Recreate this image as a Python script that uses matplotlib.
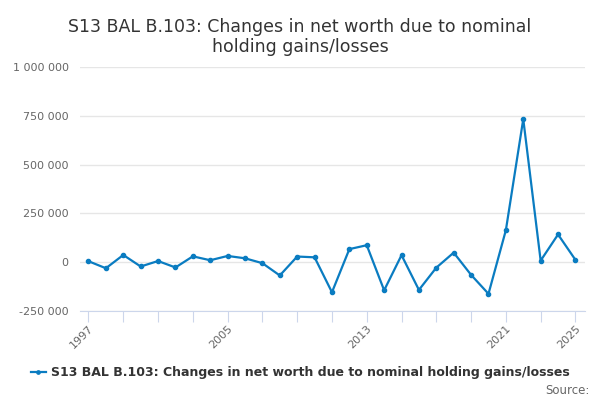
import matplotlib.pyplot as plt
from matplotlib.ticker import FuncFormatter

# data
years = list(range(1997, 2026))
values = [5000, -31000, 37000, -22000, 6000, -27000, 30000, 10000, 32000, 20000,
          -5000, -68000, 29000, 25000, -154000, 67000, 87000, -144000, 36000, -142000,
          -28000, 49000, -65000, -162000, 164000, 733000, 8000, 142000, 12000]
labelled_years = [1997, 2005, 2013, 2021, 2025]
series_name = "S13 BAL B.103: Changes in net worth due to nominal holding gains/losses"
title = "S13 BAL B.103: Changes in net worth due to nominal\nholding gains/losses"

line_col = "#0a7cc1"

fig = plt.figure(figsize=(6, 4), dpi=100)
ax = fig.add_axes([0.133, 0.2225, 0.842, 0.61])

ax.plot(years, values, color=line_col, lw=1.6, marker="o", markersize=3, label=series_name)

ax.set_xlim(1996.5, 2025.55)
ax.set_ylim(-250000, 1000000)
ax.set_yticks([-250000, 0, 250000, 500000, 750000, 1000000])
ax.yaxis.set_major_formatter(FuncFormatter(lambda v, p: f"{int(v):,}".replace(",", " ")))
ax.grid(axis="y", color="#e6e6e6", lw=1)
ax.set_axisbelow(True)

tick_years = list(range(1997, 2026, 2))
ax.set_xticks(tick_years)
ax.set_xticklabels([str(y) if y in labelled_years else "" for y in tick_years],
                   rotation=45, ha="right", rotation_mode="anchor")

for s in ["top", "right", "left"]:
    ax.spines[s].set_visible(False)
ax.spines["bottom"].set_color("#ccd6eb")
ax.tick_params(axis="x", colors="#ccd6eb", length=8, labelcolor="#666666", labelsize=8, pad=1)
ax.tick_params(axis="y", length=0, labelcolor="#666666", labelsize=8, pad=8)
for lbl in ax.get_xticklabels():
    lbl.set_x(lbl.get_position()[0])

fig.text(0.5, 0.955, title, ha="center", va="top", fontsize=12.5, color="#333333",
         linespacing=1.15)

handles, labels = ax.get_legend_handles_labels()
fig.legend(handles, labels, loc="center", bbox_to_anchor=(0.5, 0.068), frameon=False,
           prop={"size": 9, "weight": "bold"}, labelcolor="#333333",
           handlelength=1.2, handletextpad=0.4, markerscale=0.8)

fig.text(0.982, 0.025, "Source:", ha="right", va="center", fontsize=8.5, color="#666666")

fig.savefig("out.png", dpi=100)
